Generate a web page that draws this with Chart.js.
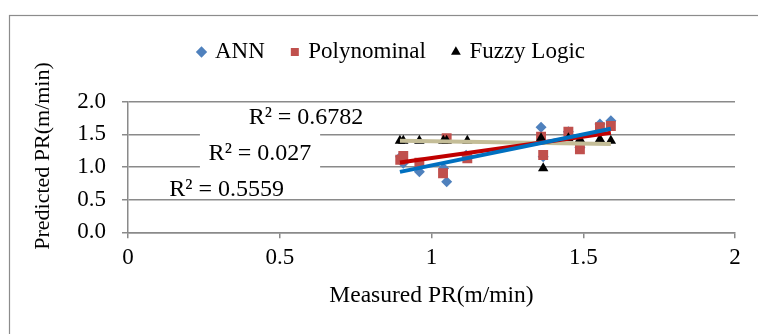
<!DOCTYPE html>
<html><head><meta charset="utf-8">
<script src="https://cdn.jsdelivr.net/npm/chart.js@4.4.1/dist/chart.umd.min.js"></script>
<style>html,body{margin:0;padding:0;background:#fff}#wrap{width:758px;height:334px}</style>
</head><body><div id="wrap"><canvas id="c" width="758" height="334"></canvas></div>
<script>
// ---- data ----
const seriesNames = ['ANN', 'Polynominal', 'Fuzzy Logic'];
const annX   = [0.898, 0.907, 0.960, 1.040, 1.050, 1.114, 1.361, 1.368, 1.451, 1.489, 1.555, 1.591];
const annY   = [1.158, 1.057, 0.928, 0.980, 0.775, 1.180, 1.608, 1.158, 1.540, 1.300, 1.658, 1.709];
const polyX  = [0.897, 0.907, 0.960, 1.038, 1.050, 1.118, 1.361, 1.368, 1.451, 1.489, 1.555, 1.591];
const polyY  = [1.110, 1.170, 1.066, 0.904, 1.440, 1.133, 1.464, 1.184, 1.540, 1.271, 1.608, 1.628];
const fuzzX  = [0.896, 0.907, 0.960, 1.039, 1.050, 1.118, 1.361, 1.368, 1.451, 1.489, 1.555, 1.591];
const fuzzY  = [1.403, 1.403, 1.403, 1.403, 1.403, 1.403, 1.440, 0.980, 1.440, 1.424, 1.424, 1.403];
// trendline end points
const trendX     = [0.896, 1.591];
const annTrendY  = [0.925, 1.585];
const polyTrendY = [1.068, 1.525];
const fuzzTrendY = [1.403, 1.352];
const r2Labels   = ['R\u00B2 = 0.6782', 'R\u00B2 = 0.027', 'R\u00B2 = 0.5559'];
const xTickLabels = ['0', '0.5', '1', '1.5', '2'];
const yTickLabels = ['0.0', '0.5', '1.0', '1.5', '2.0'];
const xTitle = 'Measured PR(m/min)';
const yTitle = 'Predicted PR(m/min)';

const pts = (xs, ys) => xs.map((v, i) => ({x: v, y: ys[i]}));

Chart.defaults.font.family = "'Liberation Serif', 'Times New Roman', serif";
Chart.defaults.color = '#000';

const GRID = '#8a8a8a';

const framePlugin = {
  id: 'frame',
  beforeDraw(chart) {
    const ctx = chart.ctx;
    ctx.save();
    ctx.fillStyle = '#fff';
    ctx.fillRect(0, 0, chart.width, chart.height);
    ctx.strokeStyle = '#8c8c8c';
    ctx.lineWidth = 1.2;
    ctx.strokeRect(9.5, 15.5, 900, 400);
    ctx.restore();
  }
};

const r2Pos = [{x: 0.5865, y: 1.751}, {x: 0.4349, y: 1.199}, {x: 0.3252, y: 0.656}];
const r2Plugin = {
  id: 'r2',
  beforeDatasetsDraw(chart) {
    const {ctx, scales: {x, y}} = chart;
    ctx.save();
    ctx.fillStyle = '#fff';
    const x0 = x.getPixelForValue(0.237), x1 = x.getPixelForValue(0.633);
    const y0 = y.getPixelForValue(1.5), y1 = y.getPixelForValue(1.0);
    ctx.fillRect(x0, y0 - 1.5, x1 - x0, y1 - y0 + 3);
    ctx.restore();
  },
  afterDatasetsDraw(chart) {
    const {ctx, scales: {x, y}} = chart;
    ctx.save();
    ctx.fillStyle = '#000';
    ctx.font = "24px 'Liberation Serif'";
    ctx.textAlign = 'center';
    ctx.textBaseline = 'middle';
    r2Labels.forEach((t, i) => {
      ctx.fillText(t, x.getPixelForValue(r2Pos[i].x), y.getPixelForValue(r2Pos[i].y));
    });
    ctx.restore();
  }
};

new Chart(document.getElementById('c'), {
  type: 'scatter',
  data: {
    datasets: [
      {label: seriesNames[0], data: pts(annX, annY), pointStyle: 'rectRot', pointRadius: 5.5, backgroundColor: '#4F81BD', borderWidth: 0, order: 3},
      {label: seriesNames[1], data: pts(polyX, polyY), pointStyle: 'rect', pointRadius: 7, backgroundColor: '#C0504D', borderWidth: 0, order: 2},
      {label: seriesNames[2], data: pts(fuzzX, fuzzY), pointStyle: 'triangle', pointRadius: 6, backgroundColor: '#000000', borderWidth: 0, order: 1},
      {label: 'ANN trend', data: pts(trendX, annTrendY), showLine: true, pointRadius: 0, borderColor: '#0070C0', borderWidth: 4, order: 0},
      {label: 'Poly trend', data: pts(trendX, polyTrendY), showLine: true, pointRadius: 0, borderColor: '#C00000', borderWidth: 4, order: 0},
      {label: 'Fuzzy trend', data: pts(trendX, fuzzTrendY), showLine: true, pointRadius: 0, borderColor: '#C4BD97', borderWidth: 4, order: 0}
    ]
  },
  options: {
    responsive: false,
    animation: false,
    events: [],
    layout: {padding: {left: 49.5, right: 23, top: 12.5, bottom: 0}},
    plugins: {
      tooltip: {enabled: false},
      title: {display: true, text: '', position: 'top', weight: 500, font: {size: 1, lineHeight: 1}, padding: {top: 27.2, bottom: 0}},
      legend: {
        position: 'top', align: 'center',
        labels: {
          usePointStyle: true, boxWidth: 4, boxHeight: 8, padding: 28, color: '#000',
          font: {size: 23},
          filter: item => item.datasetIndex < 3,
          sort: (a, b) => a.datasetIndex - b.datasetIndex
        }
      }
    },
    scales: {
      x: {
        type: 'linear', min: 0, max: 2,
        afterFit: s => { s.height = 101.7; },
        ticks: {stepSize: 0.5, padding: 6, font: {size: 23}, color: '#000', maxRotation: 0,
          callback: (v, i) => xTickLabels[i]},
        grid: {drawOnChartArea: false, drawTicks: true, tickLength: 6, color: GRID, lineWidth: 1.5},
        border: {display: true, color: GRID, width: 1.5},
        title: {display: true, text: xTitle, font: {size: 23.5}, color: '#000', padding: {top: 0, bottom: 24}}
      },
      y: {
        type: 'linear', min: 0, max: 2,
        afterFit: s => { s.width = 78.5; },
        ticks: {stepSize: 0.5, padding: 16, font: {size: 23}, color: '#000',
          callback: (v, i) => yTickLabels[i]},
        grid: {drawOnChartArea: true, drawTicks: true, tickLength: 6, color: GRID, lineWidth: 1.5},
        border: {display: true, color: GRID, width: 1.5},
        title: {display: true, text: '\u2002\u2002' + yTitle, font: {size: 22}, color: '#000', padding: {top: -19.7, bottom: 0}}
      }
    }
  },
  plugins: [framePlugin, r2Plugin]
});
</script>
</body></html>
